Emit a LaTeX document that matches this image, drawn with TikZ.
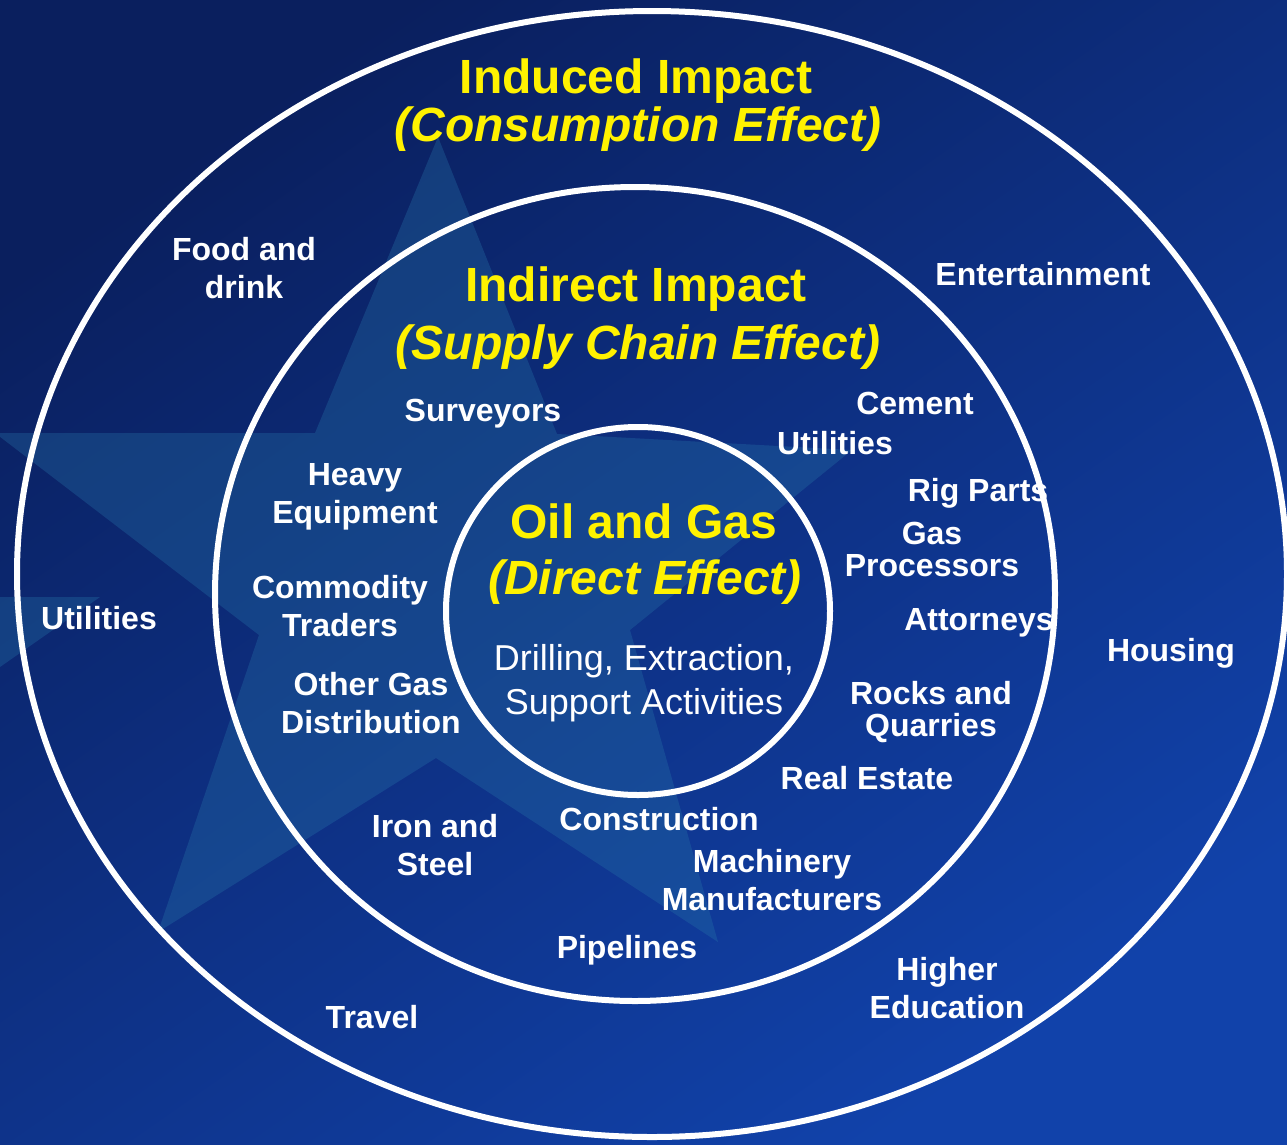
\documentclass[tikz,border=0pt]{standalone}
\usepackage{fontspec}
\setmainfont{Liberation Sans}
\usetikzlibrary{shapes.geometric}
\definecolor{navytop}{HTML}{0A1F5E}
\definecolor{navymid}{HTML}{0B2A78}
\definecolor{navybot}{HTML}{1142AA}
\definecolor{starblue}{HTML}{2774A9}
\tikzset{
    ring/.style={draw=white, line width=6pt, ellipse, inner sep=0pt}, % white ring of each tier
    headline/.style={text=yellow, font=\fontsize{48}{56}\selectfont\bfseries, inner sep=0pt},
    subline/.style={headline, font=\fontsize{48}{56}\selectfont\bfseries\itshape},
    sector/.style={text=white, font=\fontsize{32}{38}\selectfont\bfseries, align=center, inner sep=0pt},
    tight/.style={font=\fontsize{32}{32}\selectfont\bfseries},
    activity/.style={text=white, font=\fontsize{36}{44}\selectfont, inner sep=0pt}
}

\begin{document}
\begin{tikzpicture}[x=1pt, y=-1pt]
    \useasboundingbox (0, 0) rectangle (1287, 1144);
    \shade[top color=navytop, middle color=navymid, bottom color=navybot, shading angle=35] (0, 0) rectangle (1287, 1144);

    % faint star behind the rings
    \begin{scope}
        \clip (0, 0) rectangle (1287, 1144);
        \fill[starblue, opacity=0.33] (438, 137) -- (557, 434) -- (852, 450) -- (630, 630) -- (718, 942)
            -- (436, 758) -- (158, 932) -- (259, 635) -- (-5, 433) -- (315, 433) -- cycle;
        \fill[starblue, opacity=0.33] (100, 597) -- (-200, 597) -- (-200, 807) -- cycle;
    \end{scope}

    % the three tiers
    \node (induced) [ring, minimum width=1270pt, minimum height=1126pt] at (652, 574) {};
    \node (indirect) [ring, minimum width=840pt, minimum height=814pt] at (635, 594) {};
    \node (direct) [ring, minimum width=384pt, minimum height=368pt] at (638, 611) {};

    % tier titles
    \node (t1) [headline] at (636, 81) {Induced Impact};
    \node (t1b) [subline] at (638, 129) {(Consumption Effect)};
    \node (t2) [headline] at (636, 289) {Indirect Impact};
    \node (t2b) [subline] at (638, 347) {(Supply Chain Effect)};
    \node (t3) [headline] at (644, 521) {Oil and Gas};
    \node (t3b) [subline] at (645, 582) {(Direct Effect)};
    \node (drill) [activity] at (644, 661) {Drilling, Extraction,};
    \node (support) [activity] at (644, 705) {Support Activities};

    % induced: consumption sectors
    \node (food) [sector] at (244, 268) {Food and\\drink};
    \node (fun) [sector] at (1043, 274) {Entertainment};
    \node (utilout) [sector] at (99, 618) {Utilities};
    \node (housing) [sector] at (1171, 653) {Housing};
    \node (travel) [sector] at (372, 1017) {Travel};
    \node (edu) [sector] at (947, 988) {Higher\\Education};

    % indirect: supply chain sectors
    \node (survey) [sector] at (483, 414) {Surveyors};
    \node (cement) [sector] at (915, 403) {Cement};
    \node (utilin) [sector] at (835, 443) {Utilities};
    \node (heavy) [sector] at (355, 497) {Heavy\\Equipment};
    \node (rig) [sector] at (978, 493) {Rig Parts};
    \node (gasproc) [sector, tight] at (932, 549) {Gas\\Processors};
    \node (trade) [sector] at (340, 606) {Commodity\\Traders};
    \node (law) [sector] at (979, 623) {Attorneys};
    \node (othergas) [sector] at (371, 703) {Other Gas\\Distribution};
    \node (rocks) [sector, tight] at (931, 712) {Rocks and\\Quarries};
    \node (estate) [sector] at (867, 778) {Real Estate};
    \node (build) [sector] at (659, 819) {Construction};
    \node (iron) [sector] at (435, 845) {Iron and\\Steel};
    \node (mach) [sector] at (772, 880) {Machinery\\Manufacturers};
    \node (pipe) [sector] at (627, 950) {Pipelines};
\end{tikzpicture}
\end{document}
